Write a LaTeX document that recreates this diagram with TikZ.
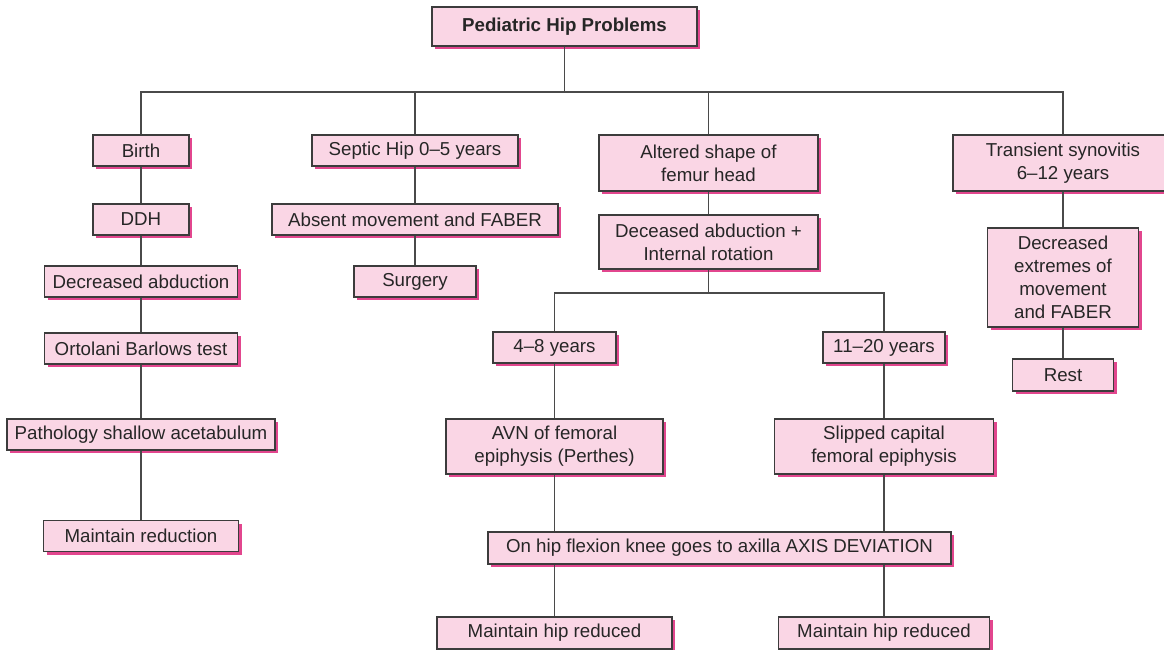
\documentclass[tikz,border=0pt]{standalone}
\usepackage{fontspec}
\setmainfont{Liberation Sans}
\usepackage{tikz}
\usetikzlibrary{shadows}

\definecolor{boxfill}{HTML}{FAD6E5}
\definecolor{boxline}{HTML}{3C3C3C}
\definecolor{boxshadow}{HTML}{E2468E}
\definecolor{wire}{HTML}{4A4A4A}

\begin{document}
\begin{tikzpicture}[
            x=1pt, y=-1pt,
            hip-node/.style={rectangle,draw=boxline,line width=1.1pt,fill=boxfill,
                text=black!85,align=center,inner sep=0pt,
                font=\fontsize{18.7}{23}\selectfont,
                drop shadow={shadow xshift=3pt,shadow yshift=-3pt,fill=boxshadow,opacity=1}},
            link/.style={draw=wire,line width=1.1pt},
        ]
            \useasboundingbox (0,0) rectangle (1164,650);

            \node[hip-node,font=\fontsize{18.7}{23}\selectfont\bfseries,minimum width=265,minimum height=39] (root) at (564.5,26.5) {Pediatric Hip Problems};

            % birth column
            \node[hip-node,minimum width=96,minimum height=31] (birth) at (141,150.5) {Birth};
            \node[hip-node,minimum width=96,minimum height=31] (ddh) at (141,219.5) {DDH};
            \node[hip-node,minimum width=193,minimum height=31] (decabd) at (141,281.5) {Decreased abduction};
            \node[hip-node,minimum width=193,minimum height=31] (ortolani) at (141,348.5) {Ortolani Barlows test};
            \node[hip-node,minimum width=268,minimum height=31] (shallow) at (141,434.5) {Pathology shallow acetabulum};
            \node[hip-node,minimum width=195,minimum height=31] (reduction) at (141,536) {Maintain reduction};

            % septic hip column
            \node[hip-node,minimum width=206,minimum height=31] (septic) at (415,150.5) {Septic Hip 0--5 years};
            \node[hip-node,minimum width=286,minimum height=31] (absent) at (415,219.5) {Absent movement and FABER};
            \node[hip-node,minimum width=122,minimum height=31] (surgery) at (415,281.5) {Surgery};

            % femur head column
            \node[hip-node,minimum width=219,minimum height=56] (altered) at (708.5,163) {Altered shape of\\femur head};
            \node[hip-node,minimum width=219,minimum height=54] (deceased) at (708.5,242) {Deceased abduction +\\Internal rotation};
            \node[hip-node,minimum width=123,minimum height=31] (young) at (554.5,347.5) {4--8 years};
            \node[hip-node,minimum width=122,minimum height=31] (older) at (884,347.5) {11--20 years};
            \node[hip-node,minimum width=217,minimum height=55] (avn) at (554.5,446.5) {AVN of femoral\\epiphysis (Perthes)};
            \node[hip-node,minimum width=219,minimum height=55] (slipped) at (884,446.5) {Slipped capital\\femoral epiphysis};
            \node[hip-node,minimum width=463,minimum height=32] (flexion) at (719.5,548) {On hip flexion knee goes to axilla AXIS DEVIATION};
            \node[hip-node,minimum width=235,minimum height=32] (keepl) at (554.5,633) {Maintain hip reduced};
            \node[hip-node,minimum width=211,minimum height=32] (keepr) at (884,633) {Maintain hip reduced};

            % synovitis column
            \node[hip-node,minimum width=220,minimum height=56] (transient) at (1063,163) {Transient synovitis\\6--12 years};
            \node[hip-node,minimum width=151,minimum height=99] (extremes) at (1063,277.5) {Decreased\\extremes of\\movement\\and FABER};
            \node[hip-node,minimum width=101,minimum height=32] (rest) at (1063,375) {Rest};

            \coordinate (bus) at (564.5,92);
            \coordinate (fork) at (708.5,293);

            \draw[link] (root) -- (bus);
            \draw[link] (birth.north) |- (bus);
            \draw[link] (septic.north) |- (bus);
            \draw[link] (altered.north) |- (bus);
            \draw[link] (transient.north) |- (bus);

            \draw[link] (birth) -- (ddh);
            \draw[link] (ddh) -- (decabd);
            \draw[link] (decabd) -- (ortolani);
            \draw[link] (ortolani) -- (shallow);
            \draw[link] (shallow) -- (reduction);

            \draw[link] (septic) -- (absent);
            \draw[link] (absent) -- (surgery);

            \draw[link] (altered) -- (deceased);
            \draw[link] (deceased) -- (fork);
            \draw[link] (young.north) |- (fork);
            \draw[link] (older.north) |- (fork);
            \draw[link] (young) -- (avn);
            \draw[link] (older) -- (slipped);
            \draw[link] (avn.south) -- (avn.south |- flexion.north);
            \draw[link] (slipped.south) -- (slipped.south |- flexion.north);
            \draw[link] (keepl.north |- flexion.south) -- (keepl.north);
            \draw[link] (keepr.north |- flexion.south) -- (keepr.north);

            \draw[link] (transient) -- (extremes);
            \draw[link] (extremes) -- (rest);
        \end{tikzpicture}
\end{document}
